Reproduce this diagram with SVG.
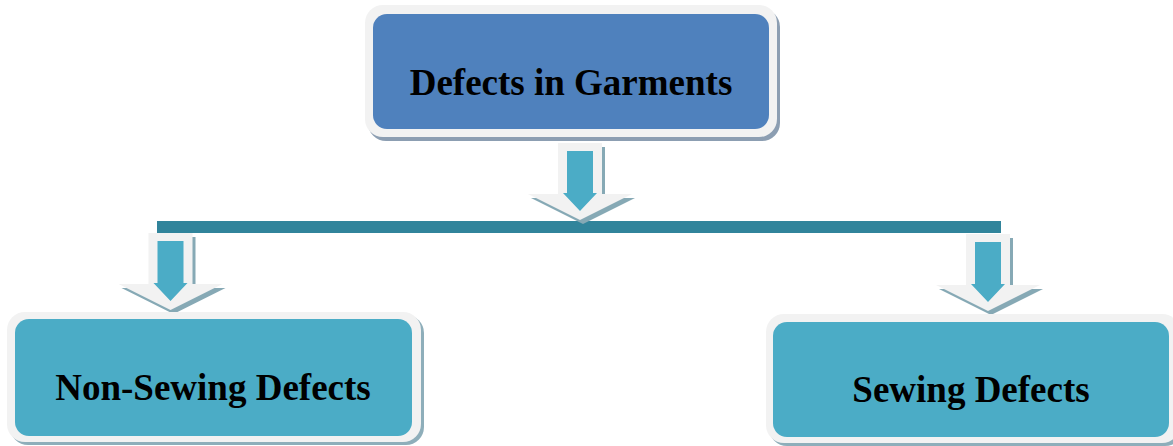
<svg xmlns="http://www.w3.org/2000/svg" width="1173" height="446" viewBox="0 0 1173 446">
  <style>
    .shadow { fill: #8C9EB2; }
    .shadow2 { fill: #8EAEBA; }
    .frame { fill: #F2F2F2; }
    .top { fill: #4F81BD; }
    .sub { fill: #4BACC6; }
    .label { font-family: "Liberation Serif", "Times New Roman", serif; font-weight: bold; font-size: 37px; fill: #000; text-anchor: middle; }
    .aw { fill: #F2F2F2; }
    .ab { fill: #4BACC6; }
    .as { fill: #86A9B5; }
  </style>
  <defs>
    <path id="arrowWhite" d="M -22,0 H 22 V 51 H 52 L 0 77 L -52 51 H -22 Z"/>
    <path id="arrowBlue" d="M -13,8 H 13 V 50 H 17 L 0 68 L -17 50 H -13 Z"/>
  </defs>
  <rect width="1173" height="446" fill="#FFFFFF"/>

  <g id="connectors">
    <rect x="157" y="221" width="844" height="12" fill="#31849B"/>
    <g id="arrow-top" transform="translate(580,143)">
      <use href="#arrowWhite" class="as" transform="translate(3,4)"/>
      <use href="#arrowWhite" class="aw"/>
      <use href="#arrowBlue" class="ab"/>
    </g>
    <g id="arrow-left" transform="translate(170.5,233)">
      <use href="#arrowWhite" class="as" transform="translate(3,4)"/>
      <use href="#arrowWhite" class="aw"/>
      <use href="#arrowBlue" class="ab"/>
    </g>
    <g id="arrow-right" transform="translate(988,234)">
      <use href="#arrowWhite" class="as" transform="translate(3,4)"/>
      <use href="#arrowWhite" class="aw"/>
      <use href="#arrowBlue" class="ab"/>
    </g>
  </g>

  <g id="node-defects-in-garments">
    <rect class="shadow" x="368" y="9" width="412" height="132" rx="18"/>
    <rect class="frame" x="365" y="5" width="412" height="132" rx="18"/>
    <rect class="top" x="373" y="14" width="396" height="115" rx="14"/>
    <text class="label" x="571" y="95">Defects in Garments</text>
  </g>

  <g id="node-non-sewing-defects">
    <rect class="shadow2" x="10" y="315" width="414" height="130" rx="18"/>
    <rect class="frame" x="7" y="312" width="414" height="130" rx="18"/>
    <rect class="sub" x="15" y="319" width="397" height="117" rx="14"/>
    <text class="label" x="213" y="400">Non-Sewing Defects</text>
  </g>

  <g id="node-sewing-defects">
    <rect class="shadow2" x="769" y="317" width="414" height="129" rx="18"/>
    <rect class="frame" x="766" y="314" width="414" height="129" rx="18"/>
    <rect class="sub" x="773" y="322" width="396" height="115" rx="14"/>
    <text class="label" x="971" y="402">Sewing Defects</text>
  </g>
</svg>
